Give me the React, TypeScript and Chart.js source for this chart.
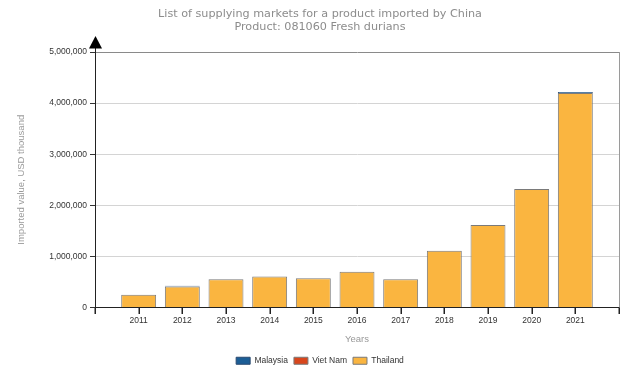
import React, { useEffect, useRef } from "react";
import { Chart, registerables } from "chart.js";

Chart.register(...registerables);

const years = ["2011", "2012", "2013", "2014", "2015", "2016", "2017", "2018", "2019", "2020", "2021"];
const thailand = [250000, 410000, 555000, 605000, 570000, 700000, 555000, 1110000, 1615000, 2320000, 4200000];
const malaysia = [null, 14000, null, null, null, null, null, null, null, null, 16000];
const vietNam = [null, null, null, null, null, null, null, null, null, null, null];
const yTicks = [0, 1000000, 2000000, 3000000, 4000000, 5000000];

const titleLines = ["List of supplying markets for a product imported by China", "Product: 081060 Fresh durians"];

const pad = (arr: (number | null)[]) => [null, ...arr, null];

const frame = {
  id: "frame",
  afterDraw(chart: any) {
    const { ctx, chartArea } = chart;
    const x = Math.round(chartArea.left) + 0.5;
    const r = Math.round(chartArea.right) + 0.5;
    const b = Math.round(chartArea.bottom);
    ctx.save();
    ctx.strokeStyle = "#9a9a9a";
    ctx.lineWidth = 1;
    ctx.beginPath();
    ctx.moveTo(r, chartArea.top);
    ctx.lineTo(r, chartArea.bottom);
    ctx.stroke();
    // x tick marks
    const xs = chart.scales.x;
    ctx.fillStyle = "#222";
    const n = xs.ticks.length;
    for (let i = 0; i < n; i++) {
      const px = Math.round(xs.getPixelForValue(i));
      ctx.fillRect(px - 0.5, b, 1.5, 6);
    }
    ctx.strokeStyle = "#222";
    ctx.beginPath();
    ctx.moveTo(x, chartArea.top - 8);
    ctx.lineTo(x, chartArea.top);
    ctx.stroke();
    ctx.fillStyle = "#000";
    ctx.beginPath();
    ctx.moveTo(x, chartArea.top - 16);
    ctx.lineTo(x - 6.5, chartArea.top - 3.5);
    ctx.lineTo(x + 6.5, chartArea.top - 3.5);
    ctx.closePath();
    ctx.fill();
    ctx.restore();
  },
};

export default function App() {
  const ref = useRef<HTMLCanvasElement | null>(null);
  useEffect(() => {
    if (!ref.current) return;
    const chart = new Chart(ref.current, {
      type: "bar",
      data: {
        labels: ["", ...years, ""],
        datasets: [
          {
            label: "Thailand",
            data: pad(thailand),
            backgroundColor: "#FAB540",
            borderColor: "#7a7a7a",
            borderWidth: 1,
          },
          {
            label: "Viet Nam",
            data: pad(vietNam),
            backgroundColor: "#D8461C",
            borderColor: "#7a7a7a",
            borderWidth: 1,
          },
          {
            label: "Malaysia",
            data: pad(malaysia),
            backgroundColor: "#1C5E96",
            borderColor: "#2a4a70",
            borderWidth: 1,
          },
        ] as any,
      },
      plugins: [frame],
      options: {
        animation: false,
        responsive: false,
        layout: { padding: { left: 0, right: 0, top: 0, bottom: 2 } },
        datasets: { bar: { categoryPercentage: 0.8, barPercentage: 1 } },
        plugins: {
          tooltip: { enabled: false },
          title: {
            display: true,
            text: titleLines,
            color: "#8c8c8c",
            font: { family: "DejaVu Sans", size: 11.2, weight: "normal", lineHeight: "13px" } as any,
            padding: { top: 8, bottom: 18 },
          },
          legend: {
            display: true,
            position: "bottom",
            reverse: true,
            labels: {
              boxWidth: 14,
              boxHeight: 7,
              padding: 6,
              color: "#333",
              font: { family: "Liberation Sans", size: 8.5 },
            },
          },
        },
        scales: {
          x: {
            stacked: true,
            offset: false,
            afterFit: (s: any) => {
              s.height = 43;
            },
            grid: { display: false, tickLength: 5 },
            border: { display: true, color: "#222" },
            ticks: {
              color: "#333",
              padding: 3,
              maxRotation: 0,
              autoSkip: false,
              font: { family: "Liberation Sans", size: 8.5 },
            },
            title: {
              display: true,
              text: "Years",
              color: "#999",
              font: { family: "Liberation Sans", size: 9.5 },
              padding: { top: 0, bottom: 5 },
            },
          },
          y: {
            stacked: true,
            min: 0,
            max: 5000000,
            afterFit: (s: any) => {
              s.width = 95;
            },
            afterBuildTicks: (s: any) => {
              s.ticks = yTicks.map((v) => ({ value: v }));
            },
            grid: {
              color: (c: any) => (c.tick && c.tick.value === 5000000 ? "#8a8a8a" : "#d4d4d4"),
              tickLength: 5,
              tickColor: "#333",
            },
            border: { display: true, color: "#222" },
            ticks: {
              color: "#333",
              padding: 3,
              font: { family: "Liberation Sans", size: 8.5 },
              callback: (v: any) => Number(v).toLocaleString("en-US"),
            },
            title: {
              display: true,
              text: "Imported value, USD thousand",
              color: "#9a9a9a",
              font: { family: "Liberation Sans", size: 9.5 },
              padding: { top: 16, bottom: 0 },
            },
          },
          yRight: {
            position: "right",
            display: true,
            afterFit: (s: any) => {
              s.width = 21;
            },
            grid: { display: false },
            border: { display: false },
            ticks: { display: false },
          },
        },
      },
    });
    return () => chart.destroy();
  }, []);
  return (
    <div style={{ position: "absolute", left: 0, top: 0, width: 640, height: 377, background: "#fff" }}>
      <canvas ref={ref} width={640} height={377} />
    </div>
  );
}
